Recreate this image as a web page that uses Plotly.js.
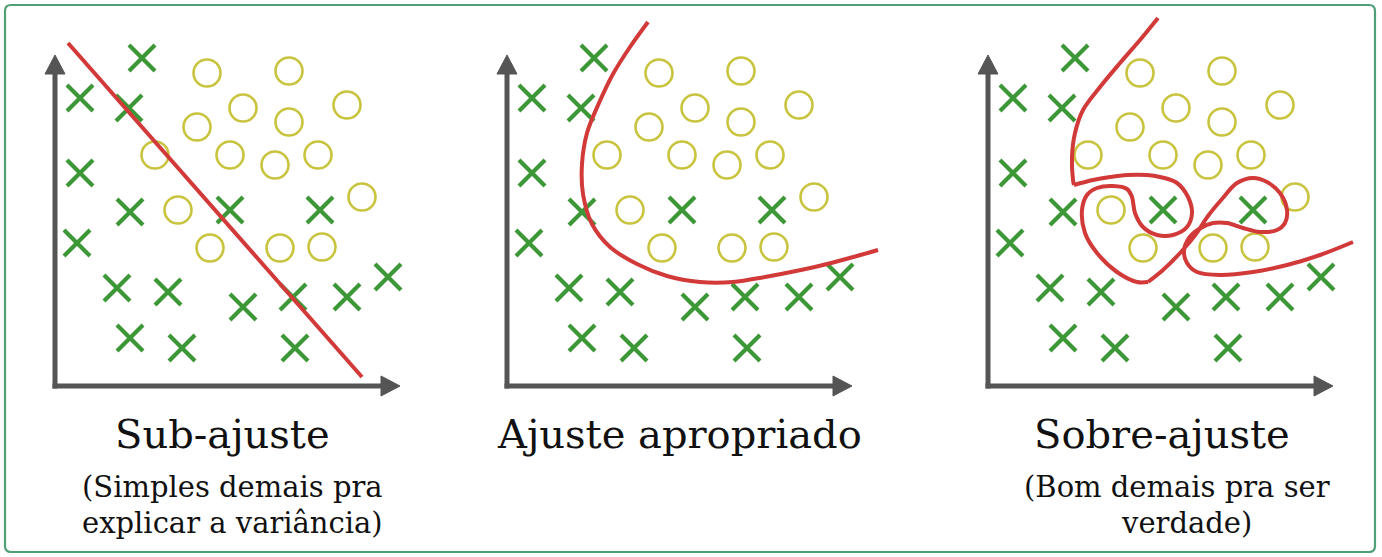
<!DOCTYPE html>
<html><head><meta charset="utf-8">
<script src="https://cdn.plot.ly/plotly-3.0.1.min.js"></script>
<style>html,body{margin:0;padding:0;background:#fff;}#chart{width:1382px;height:557px;}</style>
</head><body><div id="chart"></div>
<script>
// ---- data (same sample set in all three panels, axis origin = 0,0) ----
const crossX = [8.7, 2.5, 7.4, 2.5, 7.5, 17.5, 26.5, 2.2, 6.2, 11.3, 18.8, 23.8, 29.2, 33.3, 7.5, 12.7, 24.0];
const crossY = [32.8, 28.8, 27.8, 21.3, 17.4, 17.6, 17.6, 14.3, 9.8, 9.4, 7.9, 8.9, 8.9, 10.9, 4.8, 3.8, 3.8];
const circleX = [15.2, 23.4, 18.8, 14.2, 23.4, 29.2, 10.0, 17.5, 22.0, 26.3, 30.7, 12.3, 15.5, 22.5, 26.7];
const circleY = [31.3, 31.5, 27.8, 25.9, 26.4, 28.1, 23.1, 23.1, 22.1, 23.1, 18.9, 17.6, 13.8, 13.8, 13.9];

// panel 1: underfit straight line
const underX = [1.3, 30.7];
const underY = [34.3, 0.9];

// panel 2: appropriate fit curve
const goodX = [14.1, 12.3, 10.6, 9.2, 8.0, 7.5, 7.6, 8.5, 10.3, 13.0, 16.0, 19.3, 22.6, 25.8, 28.9, 32.0, 35.0, 37.1];
const goodY = [36.4, 33.9, 31.2, 28.3, 25.3, 22.2, 19.2, 16.2, 13.9, 12.2, 11.0, 10.4, 10.4, 10.9, 11.5, 12.2, 13.0, 13.6];

// panel 3: overfit curve (three pieces joined at sharp corners)
const overTopX = [17.0, 15.2, 13.2, 11.2, 9.5, 8.7, 8.4, 8.5, 8.6];
const overTopY = [36.8, 34.6, 32.3, 29.9, 27.6, 25.3, 22.9, 20.6, 20.1];
const overMidX = [8.6, 10.5, 12.2, 13.9, 15.9, 17.2, 18.9, 20.0, 20.4, 19.9, 18.5, 16.9, 15.5, 14.7, 14.4, 13.9, 12.5, 10.9, 9.9, 9.4, 9.7, 10.9, 12.9, 14.9, 16.0];
const overMidY = [20.1, 20.6, 20.9, 21.1, 21.1, 20.9, 20.3, 18.9, 17.3, 15.9, 15.1, 15.1, 15.9, 17.3, 18.9, 19.7, 20.0, 19.8, 19.1, 17.6, 15.3, 13.3, 11.4, 10.4, 10.4];
const overEndX = [16.0, 17.5, 19.3, 20.8, 22.0, 23.4, 24.9, 26.5, 27.9, 29.2, 29.9, 29.7, 28.9, 27.2, 25.5, 23.9, 22.5, 21.1, 20.1, 19.6, 19.9, 20.9, 23.2, 26.5, 29.9, 33.2, 36.5];
const overEndY = [10.4, 11.6, 13.4, 15.2, 17.0, 18.7, 20.3, 20.8, 20.4, 19.3, 17.6, 16.3, 15.6, 15.4, 15.8, 16.3, 16.3, 15.7, 14.8, 13.5, 12.3, 11.4, 11.1, 11.4, 12.1, 13.1, 14.4];

// axis arrow tips (data units)
const axisXTip = 34.5;
const axisYTip = 33.1;

// text
const titles = ["Sub-ajuste", "Ajuste apropriado", "Sobre-ajuste"];
const subtitles1 = ["(Simples demais pra", "explicar a variância)"];
const subtitles3 = ["(Bom demais pra ser", "verdade)"];

// ---- styling ----
const W = 1382, H = 557;
const GREEN = "#3c9836", YELLOW = "#c9c43f", RED = "#d23a3a", GREY = "#555555";
const panelLeftPx = [5, 457, 938];
const panelWidthPx = 430;
const axSuffix = ["", "2", "3"];

const traces = [];
const curves = [
  [[underX, underY]],
  [[goodX, goodY]],
  [[overTopX, overTopY], [overMidX, overMidY], [overEndX, overEndY]]
];
for (let p = 0; p < 3; p++) {
  const xa = "x" + axSuffix[p], ya = "y" + axSuffix[p];
  traces.push({
    type: "scatter", mode: "markers", x: crossX, y: crossY, xaxis: xa, yaxis: ya,
    marker: {symbol: "x-thin-open", size: 26, color: GREEN, line: {color: GREEN, width: 4.2}},
    cliponaxis: false, hoverinfo: "skip", showlegend: false
  });
  traces.push({
    type: "scatter", mode: "markers", x: circleX, y: circleY, xaxis: xa, yaxis: ya,
    marker: {symbol: "circle-open", size: 27, color: YELLOW, line: {color: YELLOW, width: 2.6}},
    cliponaxis: false, hoverinfo: "skip", showlegend: false
  });
  curves[p].forEach(c => {
    traces.push({
      type: "scatter", mode: "lines", x: c[0], y: c[1], xaxis: xa, yaxis: ya,
      line: {color: RED, width: 4, shape: c[0].length > 2 ? "spline" : "linear", smoothing: 1},
      cliponaxis: false, hoverinfo: "skip", showlegend: false
    });
  });
}

const layout = {
  width: W, height: H, margin: {l: 0, r: 0, t: 0, b: 0},
  paper_bgcolor: "#ffffff", plot_bgcolor: "rgba(0,0,0,0)",
  showlegend: false, shapes: [], annotations: []
};
const yDom = [141 / H, 551 / H];
for (let p = 0; p < 3; p++) {
  const s = axSuffix[p];
  layout["xaxis" + s] = {domain: [panelLeftPx[p] / W, (panelLeftPx[p] + panelWidthPx) / W], range: [-5, 38], visible: false, fixedrange: true, anchor: "y" + s};
  layout["yaxis" + s] = {domain: yDom, range: [-3, 38], visible: false, fixedrange: true, anchor: "x" + s};
  const xr = "x" + s, yr = "y" + s;
  const head = 1.9, half = 1.0;
  layout.shapes.push({type: "line", xref: xr, yref: yr, x0: -0.25, y0: 0, x1: axisXTip - head + 0.2, y1: 0, line: {color: GREY, width: 5}, layer: "below"});
  layout.shapes.push({type: "line", xref: xr, yref: yr, x0: 0, y0: -0.25, x1: 0, y1: axisYTip - head + 0.2, line: {color: GREY, width: 5}, layer: "below"});
  layout.shapes.push({type: "path", xref: xr, yref: yr,
    path: `M${axisXTip - head},${-half} L${axisXTip},0 L${axisXTip - head},${half} Z`,
    fillcolor: GREY, line: {color: GREY, width: 1}, layer: "below"});
  layout.shapes.push({type: "path", xref: xr, yref: yr,
    path: `M${-half},${axisYTip - head} L0,${axisYTip} L${half},${axisYTip - head} Z`,
    fillcolor: GREY, line: {color: GREY, width: 1}, layer: "below"});
}
// outer rounded green frame
(function () {
  const x0 = 5 / W, x1 = 1375 / W, yT = 1 - 5 / H, yB = 1 - 552 / H;
  const rx = 6 / W, ry = 6 / H;
  layout.shapes.push({type: "path", xref: "paper", yref: "paper",
    path: `M${x0 + rx},${yT} L${x1 - rx},${yT} Q${x1},${yT} ${x1},${yT - ry} L${x1},${yB + ry} Q${x1},${yB} ${x1 - rx},${yB} L${x0 + rx},${yB} Q${x0},${yB} ${x0},${yB + ry} L${x0},${yT - ry} Q${x0},${yT} ${x0 + rx},${yT} Z`,
    line: {color: "#4f9f78", width: 2.2}, fillcolor: "rgba(0,0,0,0)", layer: "below"});
})();

const FONT = "DejaVu Serif, Liberation Serif, serif";
function addText(text, cxPx, cyPx, size) {
  layout.annotations.push({text: text, xref: "paper", yref: "paper", x: cxPx / W, y: 1 - cyPx / H,
    xanchor: "center", yanchor: "middle", showarrow: false, font: {family: FONT, size: size, color: "#111111"}});
}
addText(titles[0], 222, 434, 40);
addText(titles[1], 679, 434, 40);
addText(titles[2], 1162, 434, 40);
addText(subtitles1[0], 232, 487, 29);
addText(subtitles1[1], 232, 523, 29);
addText(subtitles3[0], 1177, 487, 29);
addText(subtitles3[1], 1186, 523, 29);

Plotly.newPlot("chart", traces, layout, {staticPlot: true, displayModeBar: false});
</script></body></html>
